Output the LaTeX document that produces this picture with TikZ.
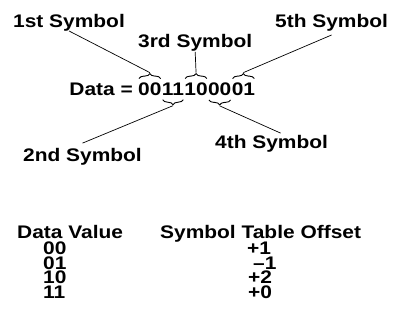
\documentclass[tikz,border=0pt]{standalone}
\usepackage{fontspec}
\setmainfont{Liberation Sans}[FakeStretch=1.15]
\usetikzlibrary{positioning,decorations.pathreplacing}
\tikzset{
  lbl/.style={inner sep=0pt,anchor=base west,font=\fontsize{18.2}{22}\selectfont\bfseries},
  symbrace/.style={decorate,decoration={brace,amplitude=5pt},line width=0.9pt},
  leader/.style={line width=0.7pt},
}
\begin{document}
\begin{tikzpicture}[x=1pt,y=1pt]
\useasboundingbox (0,0) rectangle (393,-327);
\node[lbl] (s1) at (13,-27) {1st Symbol};
\node[lbl] (s3) at (138,-47) {3rd Symbol};
\node[lbl] (s5) at (275,-27) {5th Symbol};
\node[lbl] (s2) at (23,-161.5) {2nd Symbol};
\node[lbl] (s4) at (215,-148.5) {4th Symbol};
% data word, one node per symbol
\node[lbl] (b1) at (138,-95.5) {00};
\node[lbl,base left=5pt of b1] (data) {Data =};
\node[lbl,base right=0pt of b1] (b2) {11};
\node[lbl,base right=0pt of b2] (b3) {10};
\node[lbl,base right=0pt of b3] (b4) {00};
\node[lbl,base right=0pt of b4] (b5) {01};
% braces over and under the symbols
\draw[symbrace] ([xshift=1pt,yshift=4pt]b1.north west) -- ([xshift=-1pt,yshift=4pt]b1.north east);
\draw[symbrace] ([xshift=-1pt,yshift=-4pt]b2.south east) -- ([xshift=1pt,yshift=-4pt]b2.south west);
\draw[symbrace] ([xshift=1pt,yshift=4pt]b3.north west) -- ([xshift=-1pt,yshift=4pt]b3.north east);
\draw[symbrace] ([xshift=-1pt,yshift=-4pt]b4.south east) -- ([xshift=1pt,yshift=-4pt]b4.south west);
\draw[symbrace] ([xshift=1pt,yshift=4pt]b5.north west) -- ([xshift=-1pt,yshift=4pt]b5.north east);
\coordinate (t1) at ([yshift=10pt]b1.north);
\coordinate (t2) at ([yshift=-10pt]b2.south);
\coordinate (t3) at ([yshift=10pt]b3.north);
\coordinate (t4) at ([yshift=-10pt]b4.south);
\coordinate (t5) at ([yshift=10pt]b5.north);
\draw[leader] (s1.south) -- (t1);
\draw[leader] ([yshift=-1pt]s3.south) -- (t3);
\draw[leader] ([yshift=-4pt]s5.south) -- (t5);
\draw[leader] ([yshift=5pt]s2.north) -- (t2);
\draw[leader] ([xshift=9pt,yshift=2pt]s4.north) -- (t4);
% table of offsets
\node[lbl] (hv) at (17,-238.5) {Data Value};
\node[lbl] (ho) at (160,-238.5) {Symbol Table Offset};
\node[lbl] (v1) at (43,-254.5) {00};
\node[lbl] (v2) at (43,-269) {01};
\node[lbl] (v3) at (43,-283.5) {10};
\node[lbl] (v4) at (43,-298) {11};
\node[lbl] (o1) at (247,-254.5) {+1};
\node[lbl] (o2) at (253,-269) {--1};
\node[lbl] (o3) at (248,-283.5) {+2};
\node[lbl] (o4) at (248,-298) {+0};
\end{tikzpicture}
\end{document}
